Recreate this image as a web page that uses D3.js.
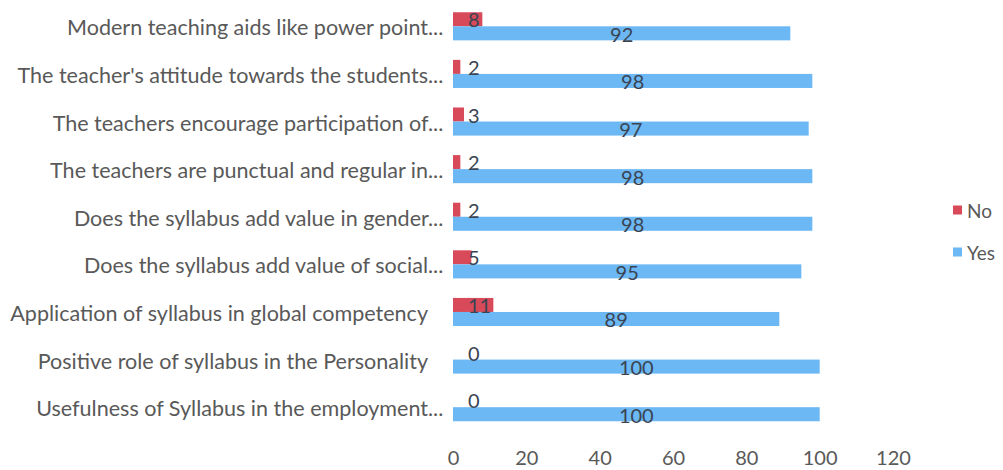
<!DOCTYPE html>
<html><head><meta charset="utf-8">
<script src="https://cdn.jsdelivr.net/npm/d3@7"></script>
<style>body{margin:0;background:#fff}svg{display:block}</style>
</head><body><svg id="c" width="1003" height="470"></svg>
<script>
const categories = [
  "Modern teaching aids like power point...",
  "The teacher's attitude towards the students...",
  "The teachers encourage participation of...",
  "The teachers are punctual and regular in...",
  "Does the syllabus add value in gender...",
  "Does the syllabus add value of social...",
  "Application of syllabus in global competency",
  "Positive role of syllabus in the Personality",
  "Usefulness of Syllabus in the employment..."
];
const noValues = [8, 2, 3, 2, 2, 5, 11, 0, 0];
const yesValues = [92, 98, 97, 98, 98, 95, 89, 100, 100];
const seriesNames = ["No", "Yes"];
const xTicks = [0, 20, 40, 60, 80, 100, 120];

const svg = d3.select("#c");
const font = "Lato, 'Open Sans', sans-serif";
const x = d3.scaleLinear().domain([0, 120]).range([453, 893]);
const y = d3.scaleBand().domain(categories).range([2.5, 431]).paddingInner(0.41).paddingOuter(0.205);
const sub = d3.scaleBand().domain(seriesNames).range([0, y.bandwidth()]);
const colors = {No: "#d84a5a", Yes: "#6cb8f4"};

// category labels: the main text is right-aligned at labelRight, the ellipsis overhangs
const labelRight = 428;
const labels = svg.append("g").selectAll("text").data(categories).join("text")
  .attr("y", d => y(d) + y.bandwidth()/2 + 1)
  .attr("dominant-baseline", "central")
  .attr("font-family", font).attr("font-size", 18).attr("fill", "#595959")
  .text(d => d);
const mainLen = (node, d) => {
  const n = d.endsWith("...") ? d.length - 3 : d.length;
  return node.getSubStringLength(0, n);
};
const maxW = d3.max(labels.nodes(), (n, i) => categories[i].endsWith("...") ? 0 : mainLen(n, categories[i]));
labels.attr("font-size", 18 * 418 / maxW);
labels.each(function(d) { d3.select(this).attr("x", labelRight - mainLen(this, d)); });

const rows = categories.map((c, i) => ({c, No: noValues[i], Yes: yesValues[i]}));

seriesNames.forEach(s => {
  svg.append("g").selectAll("rect").data(rows).join("rect")
    .attr("x", x(0)).attr("y", d => y(d.c) + sub(s))
    .attr("width", d => x(d[s]) - x(0)).attr("height", sub.bandwidth())
    .attr("fill", colors[s]);
});

// No labels
svg.append("g").selectAll("text").data(rows).join("text")
  .attr("x", x(0) + 15).attr("y", d => y(d.c) + sub("No") + sub.bandwidth()/2)
  .attr("dominant-baseline", "central")
  .attr("font-family", font).attr("font-size", 20).attr("fill", "#3a4452")
  .text(d => d.No);
// Yes labels
svg.append("g").selectAll("text").data(rows).join("text")
  .attr("x", d => (x(0) + x(d.Yes)) / 2).attr("y", d => y(d.c) + sub("Yes") + sub.bandwidth()/2 + 0.5)
  .attr("text-anchor", "middle").attr("dominant-baseline", "central")
  .attr("font-family", font).attr("font-size", 20).attr("fill", "#3a4452")
  .text(d => d.Yes);

// x axis
const ax = svg.append("g").attr("transform", "translate(0,448)")
  .call(d3.axisBottom(x).tickValues(xTicks).tickSize(0).tickPadding(3));
ax.select(".domain").remove();
ax.selectAll("text").attr("font-family", font).attr("font-size", 20).attr("fill", "#595959");

// legend
const lg = svg.append("g").selectAll("g").data(seriesNames).join("g")
  .attr("transform", (d, i) => `translate(953,${210 + i*42})`);
lg.append("rect").attr("x", 0).attr("y", -4.5).attr("width", 9).attr("height", 9).attr("fill", d => colors[d]);
lg.append("text").attr("x", 14).attr("y", 0).attr("dominant-baseline", "central")
  .attr("font-family", font).attr("font-size", 19).attr("fill", "#595959").text(d => d);
</script></body></html>
